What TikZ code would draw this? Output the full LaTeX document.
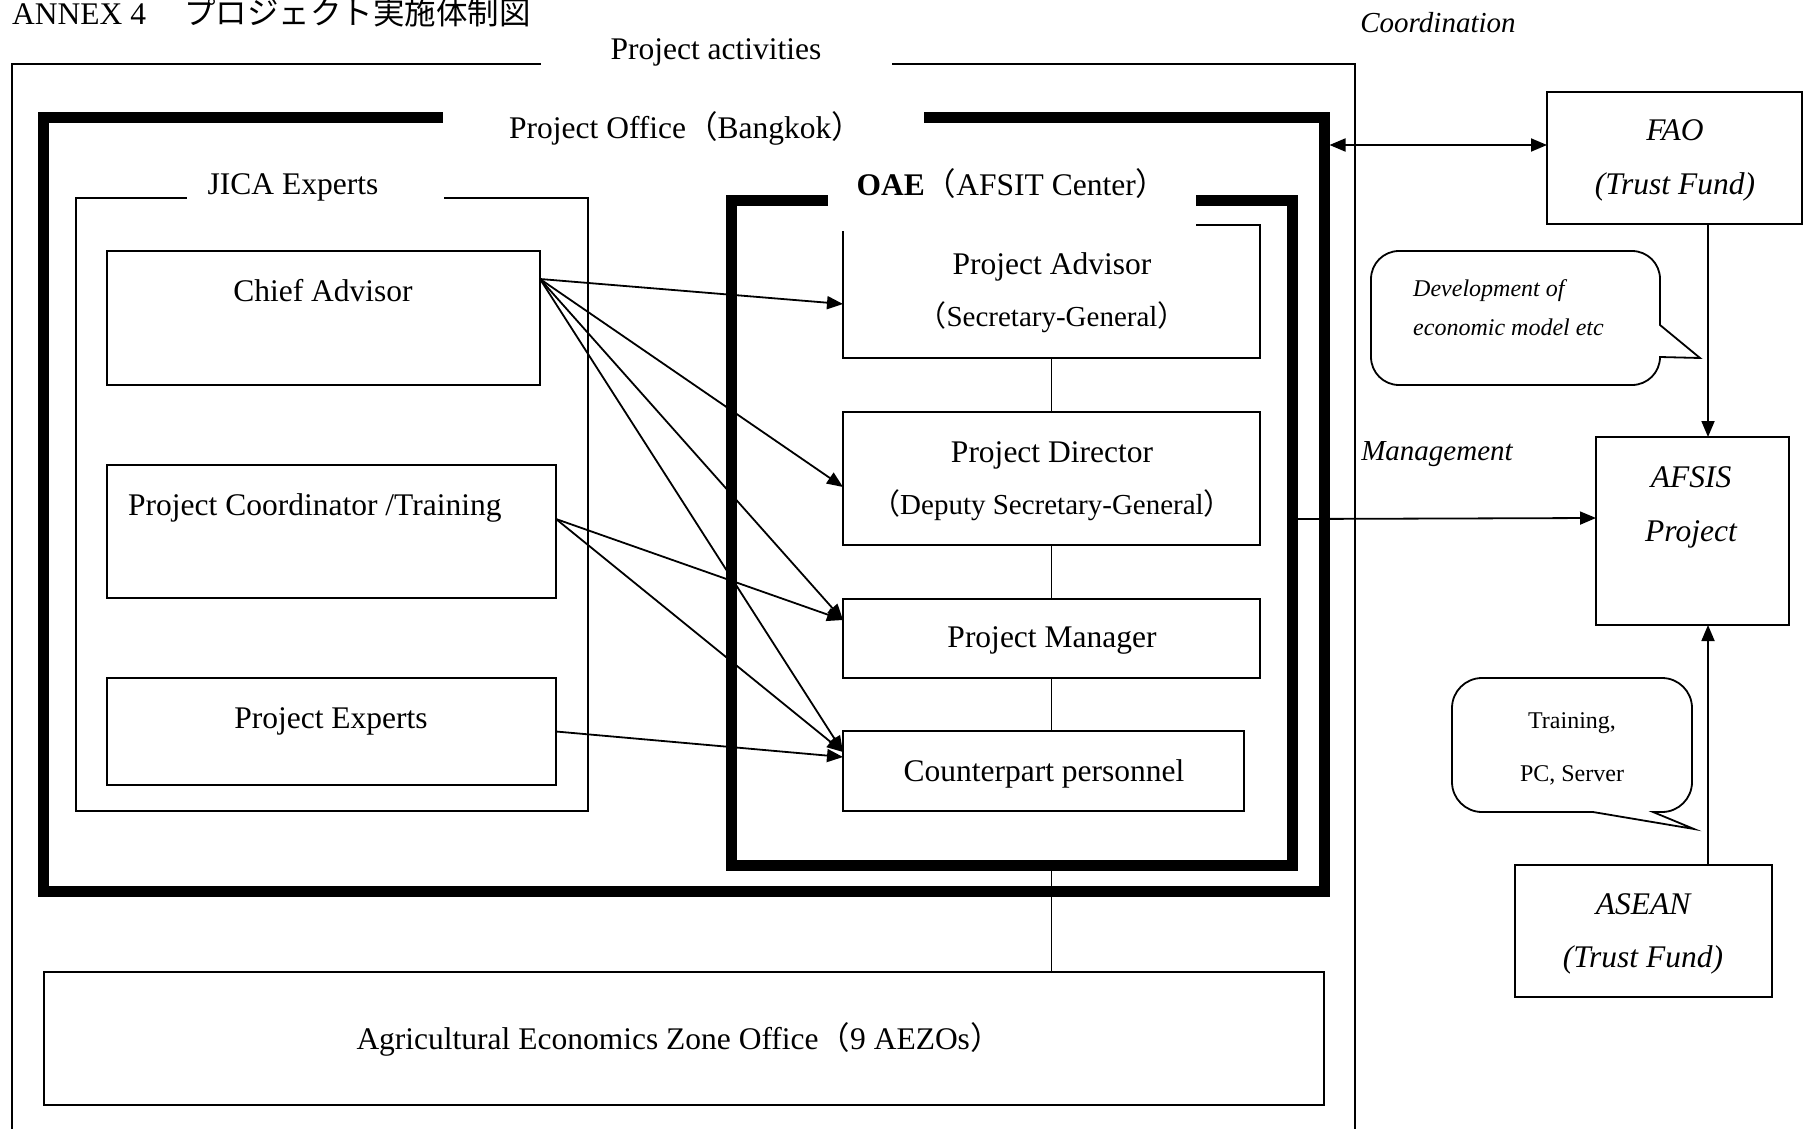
\documentclass[tikz,border=0pt]{standalone}
\usepackage{fontspec}
\setmainfont{Liberation Serif}
\newfontfamily\jp{Noto Sans CJK JP}
\usetikzlibrary{arrows.meta}
\newcommand\fmain{\fontsize{31.5}{38}\selectfont}
\newcommand\fsub{\fontsize{29}{35}\selectfont}
\newcommand\flab{\fontsize{29}{35}\selectfont}
\newcommand\fbub{\fontsize{24}{29}\selectfont}
\newcommand\bx[6]{\node[#2, minimum width={(#5)-(#3)}, minimum height={(#6)-(#4)}] (#1) at ({((#3)+(#5))/2},{((#4)+(#6))/2}) {};}
\begin{document}
\begin{tikzpicture}[x=1pt,y=-1pt,
  box/.style={draw, line width=1.8pt, inner sep=0pt, outer sep=0pt, fill=white},
  thickframe/.style={draw, line width=11pt, inner sep=0pt, outer sep=0pt},
  thinframe/.style={draw, line width=1.8pt, inner sep=0pt, outer sep=0pt},
  gap/.style={fill=white, inner sep=0pt, outer sep=0pt},
  txt/.style={inner sep=0pt, anchor=base, font=\fmain},
  conn/.style={line width=1.8pt},
  arr/.style={line width=1.8pt, -{Triangle[length=16pt,width=13pt]}},
  darr/.style={line width=1.8pt, {Triangle[length=16pt,width=13pt]}-{Triangle[length=16pt,width=13pt]}}]
\fill[white] (0,0) rectangle (1804,1129);
\useasboundingbox (0,0) rectangle (1804,1129);

% outer frame (Project activities)
\draw[conn] (12,1140) -- (12,64) -- (1355,64) -- (1355,1140);

% frames
\bx{office}{thickframe}{43}{118}{1324}{891}
\bx{jica}{thinframe}{76}{198}{588}{811}
\bx{oae}{thickframe}{731}{200}{1292}{865}

% JICA boxes
\bx{ca}{box}{107}{251}{540}{385}
\bx{pc}{box}{107}{465}{556}{598}
\bx{pe}{box}{107}{678}{556}{785}

% OAE boxes
\bx{advisor}{box}{843}{225}{1260}{358}
\bx{director}{box}{843}{412}{1260}{545}
\bx{manager}{box}{843}{599}{1260}{678}
\bx{counterpart}{box}{843}{731}{1244}{811}

% AEZO
\bx{aezo}{box}{44}{972}{1324}{1105}

% right side boxes
\bx{fao}{box}{1547}{92}{1802}{224}
\bx{afsis}{box}{1596}{437}{1789}{625}
\bx{asean}{box}{1515}{865}{1772}{997}

% label gaps
\bx{gapA}{gap}{541}{54}{892}{75}
\bx{gapB}{gap}{443}{107}{924}{130}
\bx{gapC}{gap}{187}{192}{444}{204}
\bx{gapD}{gap}{828}{186}{1196}{231}

% texts
\node[txt, anchor=base west] (title) at (12,25) {ANNEX 4\hspace{38pt}{\jp プロジェクト実施体制図}};
\node[txt] (tact) at (716,60) {Project activities};
\node[txt] (toff) at (686,139) {Project Office{\jp （}Bangkok{\jp ）}};
\node[txt] (tjica) at (293,194) {JICA Experts};
\node[txt] (toae) at (1012,195) {\textbf{OAE}{\jp （}AFSIT Center{\jp ）}};
\node[txt] (tca) at (323,301) {Chief Advisor};
\node[txt, anchor=base west] (tpc) at (128,515) {Project Coordinator /Training};
\node[txt] (tpe) at (331,728) {Project Experts};
\node[txt] (tadv1) at (1052,274) {Project Advisor};
\node[txt, font=\fsub] (tadv2) at (1052,326) {{\jp （}Secretary-General{\jp ）}};
\node[txt] (tdir1) at (1052,462) {Project Director};
\node[txt, font=\fsub] (tdir2) at (1052,514) {{\jp （}Deputy Secretary-General{\jp ）}};
\node[txt] (tman) at (1052,647) {Project Manager};
\node[txt] (tcp) at (1044,781) {Counterpart personnel};
\node[txt] (taezo) at (679,1049) {Agricultural Economics Zone Office{\jp （}9 AEZOs{\jp ）}};

\node[txt, font=\flab\itshape] (tcoord) at (1438,33) {Coordination};
\node[txt, font=\flab\itshape] (tmgmt) at (1437,460) {Management};
\node[txt, font=\fmain\itshape] (tfao1) at (1675,140) {FAO};
\node[txt, font=\fmain\itshape] (tfao2) at (1675,194) {(Trust Fund)};
\node[txt, font=\fmain\itshape] (tafs1) at (1691,487) {AFSIS};
\node[txt, font=\fmain\itshape] (tafs2) at (1691,541) {Project};
\node[txt, font=\fmain\itshape] (tas1) at (1643,914) {ASEAN};
\node[txt, font=\fmain\itshape] (tas2) at (1643,967) {(Trust Fund)};

% bubbles
\draw[conn] (1399,251) -- (1632,251) arc[start angle=-90,end angle=0,radius=28] -- (1660,325) -- (1700,358) -- (1660,357) arc[start angle=0,end angle=90,radius=28] -- (1399,385) arc[start angle=90,end angle=180,radius=28] -- (1371,279) arc[start angle=180,end angle=270,radius=28] -- cycle;
\node[txt, anchor=base west, font=\fbub\itshape] (tb1a) at (1413,296) {Development of};
\node[txt, anchor=base west, font=\fbub\itshape] (tb1b) at (1413,335) {economic model etc};

\draw[conn] (1482,678) -- (1662,678) arc[start angle=-90,end angle=0,radius=30] -- (1692,782) arc[start angle=0,end angle=90,radius=30] -- (1653,812) -- (1694,829) -- (1593,812) -- (1482,812) arc[start angle=90,end angle=180,radius=30] -- (1452,708) arc[start angle=180,end angle=270,radius=30] -- cycle;
\node[txt, font=\fbub] (tb2a) at (1572,728) {Training,};
\node[txt, font=\fbub] (tb2b) at (1572,781) {PC, Server};

% vertical connectors
\draw[conn] (advisor.south) -- (director.north);
\draw[conn] (director.south) -- (manager.north);
\draw[conn] (manager.south) -- (counterpart.north -| manager.south);
\draw[conn] (oae.south -| advisor.south) -- (aezo.north -| advisor.south);

% arrows from JICA experts
\draw[arr] ([yshift=39pt]ca.east) -- ([yshift=-12.5pt]advisor.west);
\draw[arr] ([yshift=39pt]ca.east) -- ([yshift=-8.5pt]director.west);
\draw[arr] ([yshift=39pt]ca.east) -- ([yshift=18.5pt]manager.west);
\draw[arr] ([yshift=39pt]ca.east) -- ([yshift=19pt]counterpart.west);
\draw[arr] ([yshift=12.5pt]pc.east) -- ([yshift=18.5pt]manager.west);
\draw[arr] ([yshift=12.5pt]pc.east) -- ([yshift=19pt]counterpart.west);
\draw[arr] (pe.east) -- ([yshift=14pt]counterpart.west);

% right side arrows
\draw[darr] ([xshift=5.5pt,yshift=359.5pt]office.east) -- ([yshift=13pt]fao.west);
\draw[arr] ([xshift=5.5pt,yshift=13.5pt]oae.east) -- ([yshift=13pt]afsis.west);
\draw[arr] ([xshift=33.5pt]fao.south) -- ([xshift=15.5pt]afsis.north);
\draw[arr] ([xshift=64.5pt]asean.north) -- ([xshift=15.5pt]afsis.south);
\end{tikzpicture}
\end{document}
